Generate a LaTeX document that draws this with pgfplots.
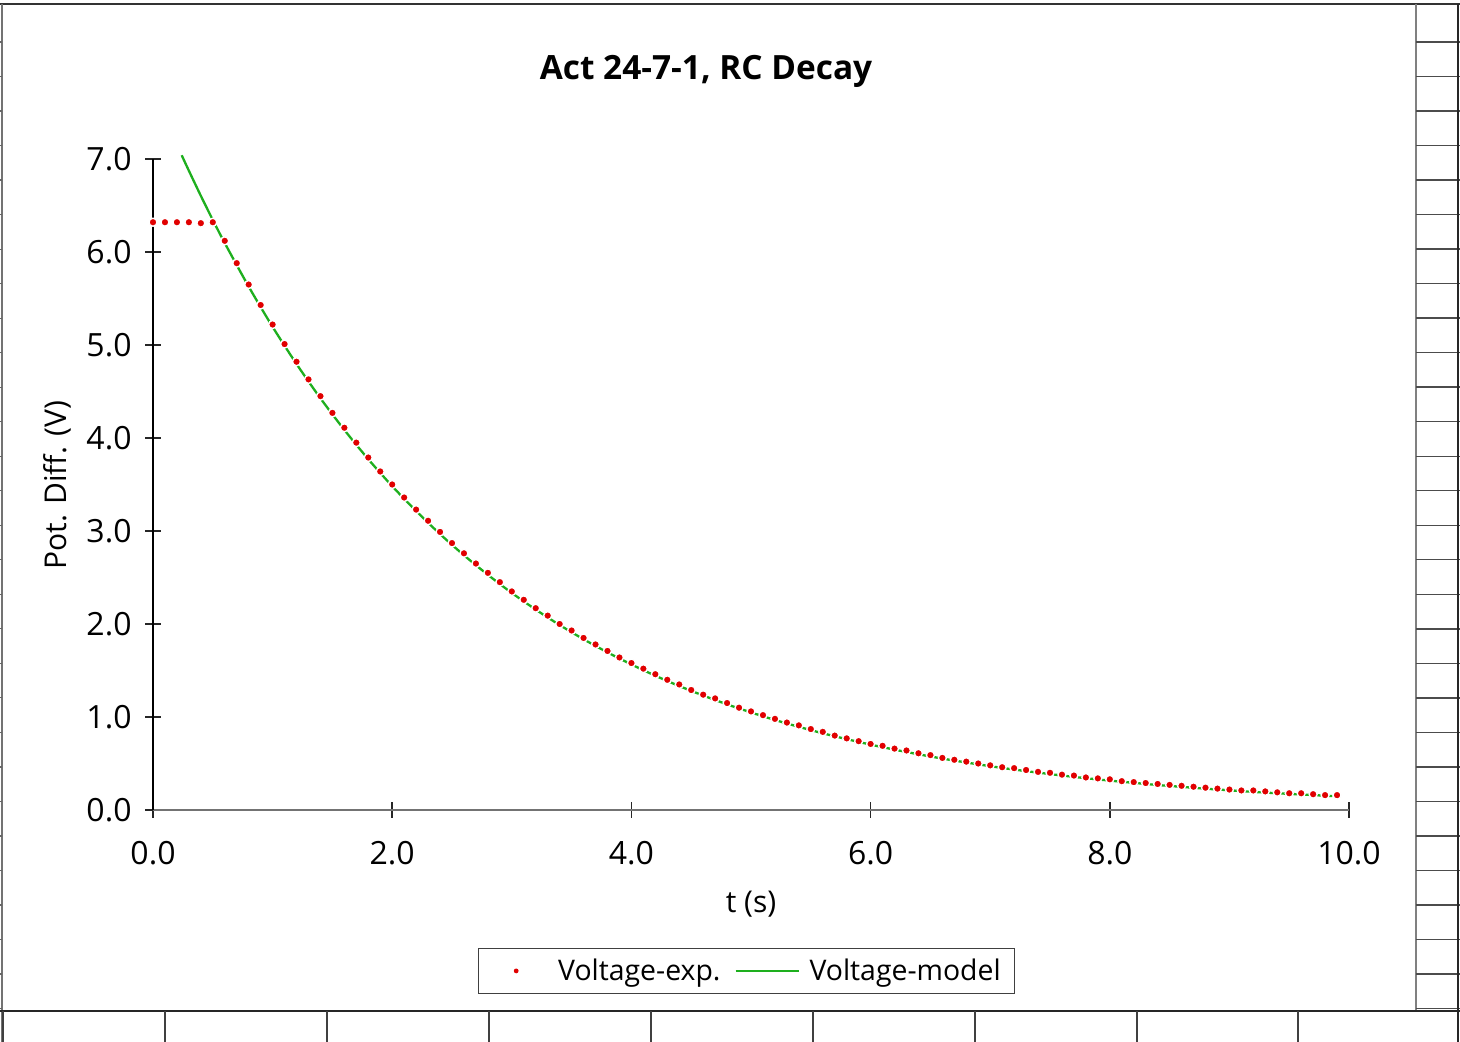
\documentclass[border=0pt]{standalone}
\usepackage{fontspec}
\setmainfont{Open Sans}
\usepackage{pgfplots}
\pgfplotsset{compat=1.18}
\definecolor{dotred}{RGB}{225,0,0}
\definecolor{modgreen}{RGB}{30,175,30}
\begin{document}
\begin{tikzpicture}
\useasboundingbox (0,0) rectangle (730pt,521pt);
\begin{scope}[x=0.5pt,y=-0.5pt,yshift=521pt]
\fill[white] (0,0) rectangle (1460,1042);
\draw[line width=1pt, black!80] (0,4) -- (1460,4);
\draw[line width=0.8pt, black!55] (2,4) -- (2,1042);
\foreach \k in {0,...,28} \draw[black!60, line width=0.6pt] (0,{42+34.52*\k}) -- (2,{42+34.52*\k});
\draw[line width=0.8pt, black!50] (1416,4) -- (1416,1011);
\foreach \k in {0,...,28} \draw[black!70, line width=0.7pt] (1416,{42+34.52*\k}) -- (1460,{42+34.52*\k});
\draw[line width=1pt, black!85] (1458,4) -- (1458,1042);
\draw[line width=0.8pt, black!85] (0,1011) -- (1460,1011);
\foreach \x in {3,165,327,489,651,813,975,1137,1298} \draw[black!75, line width=0.7pt] (\x,1011) -- (\x,1042);
\end{scope}
\begin{axis}[
  at={(76.5pt,116pt)}, anchor=south west,
  scale only axis, width=598pt, height=325.5pt,
  xmin=0, xmax=10, ymin=0, ymax=7,
  clip=false,
  axis x line*=bottom, axis y line*=left,
  xtick={0,2,4,6,8,10}, ytick={0,1,2,3,4,5,6,7},
  tick align=center, major tick length=8pt,
  x axis line style={black!55, line width=1pt},
  y axis line style={black, line width=1pt},
  tick style={black!85, line width=0.8pt},
  /pgf/number format/.cd, fixed, fixed zerofill, precision=1, assume math mode=true, /pgfplots/.cd,
  ticklabel style={font=\fontsize{16}{19}\selectfont},
  yticklabel style={inner sep=0pt, anchor=east, xshift=-6.5pt},
  xticklabel style={inner sep=0pt, anchor=north, yshift=-11.5pt},
  title={Act 24-7-1, RC Decay},
  title style={at={(axis description cs:0.4624,1.1214)}, anchor=base, yshift=-6pt, font=\fontsize{16.7}{20}\selectfont\bfseries},
  xlabel={t (s)},
  xlabel style={at={(axis description cs:0.5,-0.158)}, anchor=base, font=\fontsize{15}{18}\selectfont},
  ylabel={Pot. Diff. (V)},
  ylabel style={at={(axis description cs:-0.072,0.499)}, anchor=base, font=\fontsize{15}{18}\selectfont},
  legend columns=2,
  legend style={at={(axis description cs:0.4962,-0.212)}, anchor=north,
    draw=black!75, line width=0.6pt, font=\fontsize{14.2}{17}\selectfont,
    inner xsep=7pt, inner ysep=5pt, nodes={inner sep=0pt},
    /tikz/column 1/.style={column sep=11pt},
    /tikz/column 2/.style={column sep=7pt},
    /tikz/column 3/.style={column sep=5pt}},
]
\addlegendimage{draw=none, legend image code/.code={\path[draw=none] (0pt,0pt) -- (22pt,0pt); \fill[dotred, draw=none] (12pt,0pt) circle (1.2pt);}}
\addlegendentry{Voltage-exp.}
\addlegendimage{legend image code/.code={\draw[modgreen, line width=1pt] (0pt,0pt) -- (31.5pt,0pt);}}
\addlegendentry{Voltage-model}
% model
\addplot[modgreen, line width=1.15pt, smooth, forget plot] coordinates {
(0.24,7.04) (0.3,6.874) (0.4,6.604) (0.5,6.345) (0.6,6.096) (0.8,5.628) (1.0,5.195)
(1.2,4.796) (1.4,4.427) (1.6,4.087) (1.8,3.772) (2.0,3.482) (2.2,3.215) (2.4,2.967)
(2.6,2.739) (2.8,2.529) (3.0,2.334) (3.2,2.155) (3.4,1.989) (3.6,1.836) (3.8,1.695)
(4.0,1.565) (4.2,1.444) (4.4,1.333) (4.6,1.231) (4.8,1.136) (5.0,1.049) (5.2,0.968)
(5.4,0.894) (5.6,0.825) (5.8,0.762) (6.0,0.703) (6.2,0.649) (6.4,0.599) (6.6,0.553)
(6.8,0.511) (7.0,0.471) (7.2,0.435) (7.4,0.402) (7.6,0.371) (7.8,0.342) (8.0,0.316)
(8.2,0.292) (8.4,0.269) (8.6,0.249) (8.8,0.229) (9.0,0.212) (9.2,0.195) (9.4,0.180)
(9.6,0.167) (9.8,0.154) (9.86,0.150)
};
% data
\addplot[only marks, mark=*, mark size=2.0pt, mark options={fill=dotred, draw=white, line width=0.7pt}, forget plot] coordinates {
(0.0,6.32) (0.1,6.32) (0.2,6.32) (0.3,6.32) (0.4,6.31) (0.5,6.32)
(0.6,6.12) (0.7,5.88) (0.8,5.65) (0.9,5.43) (1.0,5.22) (1.1,5.01) (1.2,4.82) (1.3,4.63)
(1.4,4.45) (1.5,4.27) (1.6,4.11) (1.7,3.95) (1.8,3.79) (1.9,3.64) (2.0,3.50) (2.1,3.36)
(2.2,3.23) (2.3,3.11) (2.4,2.99) (2.5,2.87) (2.6,2.76) (2.7,2.65) (2.8,2.55) (2.9,2.45)
(3.0,2.35) (3.1,2.26) (3.2,2.17) (3.3,2.09) (3.4,2.00) (3.5,1.93) (3.6,1.85) (3.7,1.78)
(3.8,1.71) (3.9,1.64) (4.0,1.58) (4.1,1.52) (4.2,1.46) (4.3,1.40) (4.4,1.35) (4.5,1.29)
(4.6,1.24) (4.7,1.20) (4.8,1.15) (4.9,1.10) (5.0,1.06) (5.1,1.02) (5.2,0.98) (5.3,0.94)
(5.4,0.91) (5.5,0.87) (5.6,0.84) (5.7,0.80) (5.8,0.77) (5.9,0.74) (6.0,0.71) (6.1,0.69)
(6.2,0.66) (6.3,0.64) (6.4,0.61) (6.5,0.59) (6.6,0.56) (6.7,0.54) (6.8,0.52) (6.9,0.50)
(7.0,0.48) (7.1,0.46) (7.2,0.45) (7.3,0.43) (7.4,0.41) (7.5,0.40) (7.6,0.38) (7.7,0.37)
(7.8,0.35) (7.9,0.34) (8.0,0.33) (8.1,0.31) (8.2,0.30) (8.3,0.29) (8.4,0.28) (8.5,0.27)
(8.6,0.26) (8.7,0.25) (8.8,0.24) (8.9,0.23) (9.0,0.22) (9.1,0.21) (9.2,0.21) (9.3,0.20)
(9.4,0.19) (9.5,0.18) (9.6,0.18) (9.7,0.17) (9.8,0.16) (9.9,0.16)
};
\end{axis}
\end{tikzpicture}
\end{document}
